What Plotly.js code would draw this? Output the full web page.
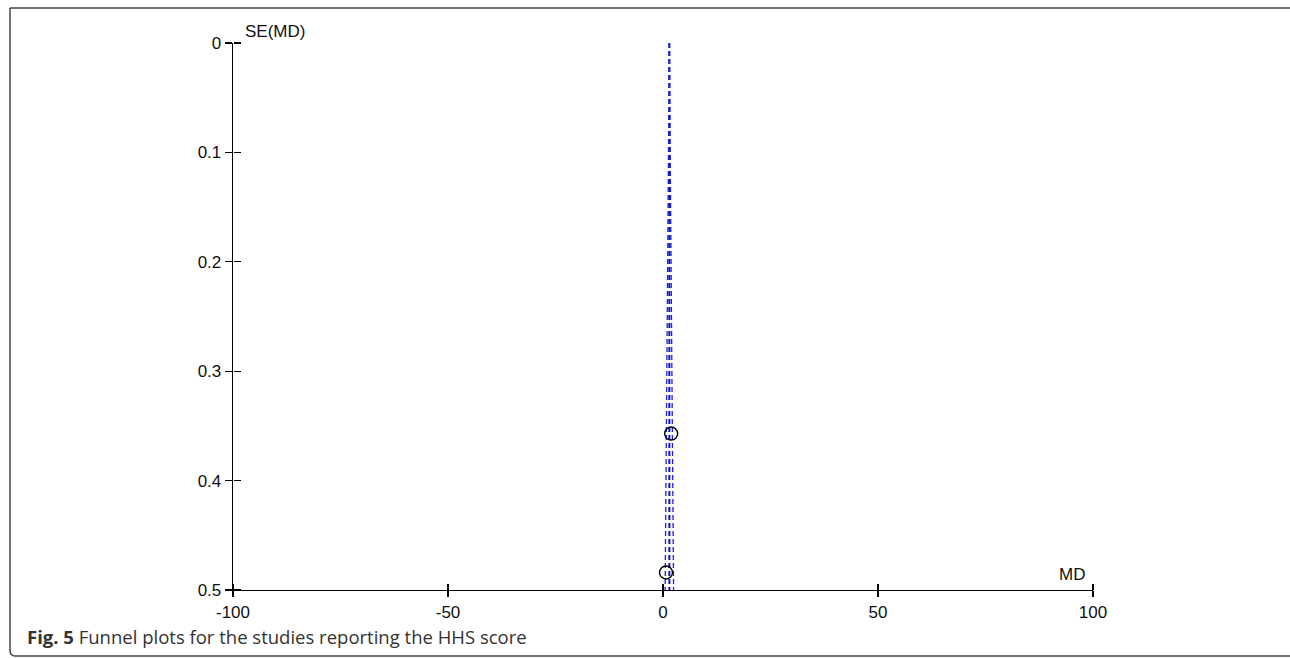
<!DOCTYPE html>
<html>
<head>
<meta charset="utf-8">
<script src="https://cdn.plot.ly/plotly-3.0.1.min.js"></script>
<style>html,body{margin:0;padding:0;background:#fff;}#chart{width:1290px;height:658px;}</style>
</head>
<body>
<div id="chart"></div>
<script>
// Study data
const studyMD = [1.9, 0.7];
const studySE = [0.357, 0.484];
// Pooled estimate and funnel extent
const pooledMD = 1.48;
const seMax = 0.5;
const zCrit = 1.96;
const xTicks = [-100, -50, 0, 50, 100];
const xTickLabels = ['-100', '-50', '0', '50', '100'];
const yTicks = [0, 0.1, 0.2, 0.3, 0.4, 0.5];
const yTickLabels = ['0', '0.1', '0.2', '0.3', '0.4', '0.5'];

const funnelSE = [0, seMax];
const lineStyle = {color: '#1f1fd6', width: 1.3, dash: '5px,3px'};

const traces = [
  {x: [pooledMD, pooledMD], y: funnelSE, mode: 'lines', line: {color: '#1010d0', width: 2, dash: '5px,3px'}, hoverinfo: 'skip'},
  {x: funnelSE.map(s => pooledMD - zCrit * s), y: funnelSE, mode: 'lines', line: lineStyle, hoverinfo: 'skip'},
  {x: funnelSE.map(s => pooledMD + zCrit * s), y: funnelSE, mode: 'lines', line: lineStyle, hoverinfo: 'skip'},
  {x: studyMD, y: studySE, mode: 'markers', marker: {symbol: 'circle-open', size: 13, color: '#000', line: {width: 1.4, color: '#000'}}},
  {x: [0], y: [0.25], xaxis: 'x2', yaxis: 'y2', mode: 'markers', marker: {opacity: 0}, hoverinfo: 'skip'}
];

const tickFont = {family: 'Liberation Sans, Arial, sans-serif', size: 17, color: '#111'};
const baseX = {range: [-100, 100], tickmode: 'array', tickvals: xTicks, ticktext: xTickLabels,
  showline: true, linecolor: '#000', linewidth: 1.3, showgrid: false, zeroline: false,
  ticks: 'outside', ticklen: 6, tickwidth: 1.3, tickcolor: '#000', tickfont: tickFont};
const baseY = {range: [seMax, 0], tickmode: 'array', tickvals: yTicks, ticktext: yTickLabels,
  showline: true, linecolor: '#000', linewidth: 1.3, showgrid: false, zeroline: false,
  ticks: 'outside', ticklen: 7, tickwidth: 1.3, tickcolor: '#000', tickfont: tickFont};

const layout = {
  width: 1290, height: 658,
  margin: {l: 233, r: 197, t: 43, b: 68, pad: 0},
  paper_bgcolor: '#fff', plot_bgcolor: '#fff',
  showlegend: false,
  xaxis: baseX,
  yaxis: baseY,
  // companion axes drawing the other half of each crossing tick mark
  xaxis2: Object.assign({}, baseX, {overlaying: 'x', anchor: 'free', position: 0, side: 'top', ticks: 'outside', ticklen: 6, showticklabels: false, showline: false}),
  yaxis2: Object.assign({}, baseY, {overlaying: 'y', anchor: 'free', position: 0, side: 'right', ticks: 'outside', ticklen: 7, showticklabels: false, showline: false}),
  annotations: [
    {text: 'SE(MD)', xref: 'paper', yref: 'paper', x: 0.012, y: 1.0, xanchor: 'left', yanchor: 'bottom', yshift: 0, showarrow: false, font: tickFont},
    {text: 'MD', xref: 'paper', yref: 'paper', x: 1.0, y: 0, xanchor: 'right', yanchor: 'bottom', xshift: -6, yshift: 4, showarrow: false, font: tickFont},
    {text: '<b>Fig. 5</b> Funnel plots for the studies reporting the HHS score', xref: 'paper', yref: 'paper',
      x: -0.2419, y: -0.0859, xanchor: 'left', yanchor: 'middle', showarrow: false,
      font: {family: 'Open Sans, Noto Sans, sans-serif', size: 18.5, color: '#333'}}
  ],
  shapes: [
    {type: 'path', xref: 'paper', yref: 'paper', layer: 'above',
      path: 'M -0.2593 1.0640 L 1.2326 1.0640 Q 1.2384 1.0640 1.2384 1.0560 L 1.2384 -0.1097 M -0.2593 1.0640 L -0.2593 -0.1097 Q -0.2593 -0.1207 -0.2535 -0.1207 L 1.2326 -0.1207',
      line: {color: '#444', width: 1.5}}
  ]
};

Plotly.newPlot('chart', traces, layout, {staticPlot: true});
</script>
</body>
</html>
